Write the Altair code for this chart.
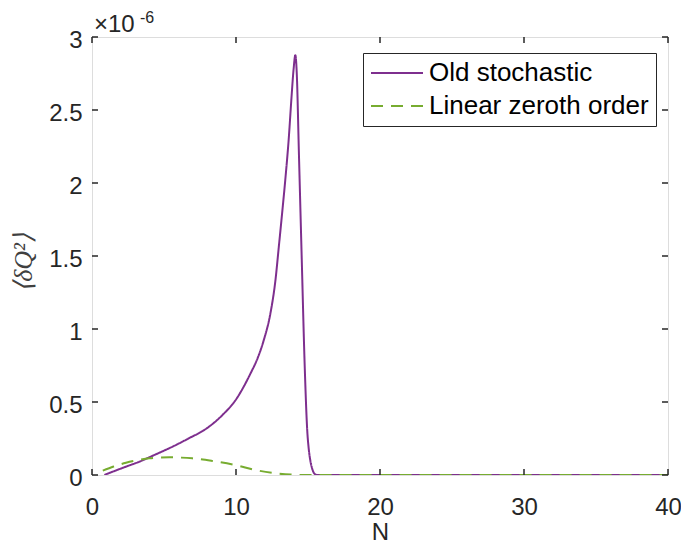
import altair as alt
import pandas as pd

# ---- data (values in units of 1e-6) ----
series_names = ["Old stochastic", "Linear zeroth order"]
series_colors = ["#7E2F8E", "#77AC30"]

old_N = [0.86, 1.5, 2.3, 3.28, 4.4, 5.59, 6.7, 7.9, 9.05, 9.97, 11.01, 11.5, 11.93,
         12.39, 12.74, 12.97, 13.2, 13.43, 13.66, 13.85, 14.0, 14.12, 14.22, 14.37,
         14.56, 14.78, 14.95, 15.05, 15.16, 15.3, 15.5, 15.7, 20, 30, 40]
old_v = [0.0, 0.025, 0.055, 0.091, 0.14, 0.194, 0.25, 0.315, 0.41, 0.513, 0.696, 0.8,
         0.924, 1.107, 1.335, 1.56, 1.79, 2.03, 2.3, 2.58, 2.78, 2.875, 2.75, 2.2, 1.5,
         0.72, 0.3, 0.18, 0.10, 0.04, 0.005, 0.0, 0.0, 0.0, 0.0]

lin_N = [0.75, 1.5, 2.36, 3.2, 3.98, 5.36, 6.2, 6.97, 8.35, 9.97, 11.36, 12.74, 13.8,
         15.0, 20, 30, 40]
lin_v = [0.03, 0.058, 0.084, 0.102, 0.114, 0.121, 0.119, 0.114, 0.096, 0.068, 0.034,
         0.012, 0.003, 0.0, 0.0, 0.0, 0.0]

x_ticks = [0, 10, 20, 30, 40]
y_ticks = [0, 0.5, 1, 1.5, 2, 2.5, 3]
exponent_text = ["\u00d710", "-6"]

W, H = 576, 438
TICK = 6
AX = "#262626"
FONT = "Liberation Sans"

rows = []
for n, v in zip(old_N, old_v):
    rows.append({"N": n, "v": v, "series": series_names[0], "order": 0})
for n, v in zip(lin_N, lin_v):
    rows.append({"N": n, "v": v, "series": series_names[1], "order": 1})
df = pd.DataFrame(rows)

xscale = alt.Scale(domain=[0, 40], nice=False, zero=False)
yscale = alt.Scale(domain=[0, 3], nice=False, zero=False)


def make_legend():
    return alt.Legend(title=None, orient="none", legendX=271, legendY=16,
                      strokeColor=AX, fillColor="white", padding=7,
                      labelFontSize=26, labelFont=FONT, labelColor="#000000",
                      labelLimit=500, symbolType="stroke", symbolSize=2704,
                      symbolStrokeWidth=2, labelOffset=5, rowPadding=7, clipHeight=26)


lines = alt.Chart(df).mark_line(strokeWidth=2, interpolate="monotone", clip=True).encode(
    x=alt.X("N:Q", scale=xscale,
            axis=alt.Axis(values=x_ticks, format="d", title="N", ticks=False, domain=False,
                          grid=False, labelPadding=20, labelFlush=False, labelFontSize=24,
                          labelFont=FONT, labelColor=AX, titleFontSize=24, titleFont=FONT,
                          titleColor=AX, titleFontWeight="normal", titleX=W / 2, titleY=57,
                          titleBaseline="middle", titleAlign="center")),
    y=alt.Y("v:Q", scale=yscale,
            axis=alt.Axis(values=y_ticks, format="~g", title="\u27e8\u03b4Q\u00b2\u27e9",
                          ticks=False, domain=False, grid=False, labelPadding=10,
                          labelFlush=False, labelFontSize=24, labelFont=FONT, labelColor=AX,
                          labelBaseline="middle", labelOffset=3,
                          titleFontSize=26, titleFont="Liberation Serif",
                          titleFontStyle="italic", titleFontWeight="normal",
                          titleColor="#404040", titleX=-69, titleY=225,
                          titleAngle=270, titleBaseline="middle", titleAlign="center")),
    color=alt.Color("series:N", scale=alt.Scale(domain=series_names, range=series_colors),
                    legend=make_legend()),
    strokeDash=alt.StrokeDash("series:N",
                              scale=alt.Scale(domain=series_names, range=[[1, 0], [12, 8]]),
                              legend=make_legend()),
    order=alt.Order("order:Q"),
)

xt = pd.DataFrame({"t": x_ticks})
yt = pd.DataFrame({"t": y_ticks})

xb = alt.Chart(xt).mark_rule(color=AX, strokeWidth=1.5).encode(
    x=alt.X("t:Q", scale=xscale), y=alt.value(H), y2=alt.value(H - TICK))
xtop = alt.Chart(xt).mark_rule(color=AX, strokeWidth=1.5).encode(
    x=alt.X("t:Q", scale=xscale), y=alt.value(0), y2=alt.value(TICK))
yl = alt.Chart(yt).mark_rule(color=AX, strokeWidth=1.5).encode(
    y=alt.Y("t:Q", scale=yscale), x=alt.value(0), x2=alt.value(TICK))
yr = alt.Chart(yt).mark_rule(color=AX, strokeWidth=1.5).encode(
    y=alt.Y("t:Q", scale=yscale), x=alt.value(W), x2=alt.value(W - TICK))

exp_main = alt.Chart(pd.DataFrame({"s": [exponent_text[0]]})).mark_text(
    align="left", baseline="alphabetic", fontSize=24, font=FONT, color=AX).encode(
    x=alt.value(2), y=alt.value(-5), text="s:N")
exp_sup = alt.Chart(pd.DataFrame({"s": [exponent_text[1]]})).mark_text(
    align="left", baseline="alphabetic", fontSize=16, font=FONT, color=AX).encode(
    x=alt.value(48), y=alt.value(-14), text="s:N")

chart = alt.layer(lines, xb, xtop, yl, yr, exp_main, exp_sup).properties(
    width=W, height=H,
    autosize=alt.AutoSizeParams(type="none"),
    padding={"left": 84, "top": 29, "right": 13, "bottom": 68},
).configure_view(stroke=AX, strokeWidth=1.5).configure(background="white")

chart.save("out.html", embed_options={"renderer": "svg", "actions": False})
